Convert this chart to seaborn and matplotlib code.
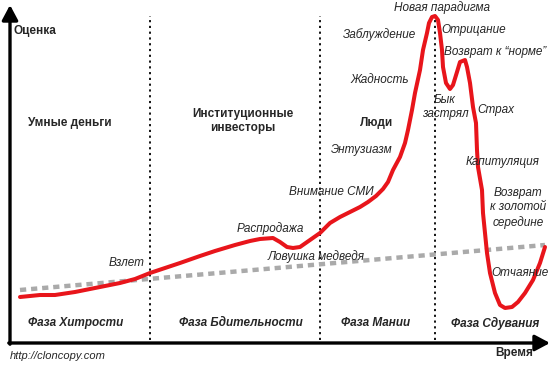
import matplotlib
matplotlib.use("Agg")
import matplotlib.pyplot as plt
import seaborn as sns
import pandas as pd

# Bubble phases chart: time on x, valuation on y (units)
time_pts = [10, 30, 45, 65, 90, 110, 125, 140, 155, 170,
            190, 205, 225, 240, 250, 263, 270, 277, 283, 290,
            300, 310, 320, 330, 340, 350, 358, 366, 373, 378,
            383, 390, 395, 398, 402, 405, 410, 413, 417, 419,
            422, 425, 428, 430, 432, 433, 436, 440, 443, 447,
            450, 455, 457, 460, 463, 466, 467, 468, 472, 473,
            475, 477, 480, 485, 490, 495, 502, 508, 515, 523,
            530, 535]
valuation = [46, 48, 48, 51, 56, 60, 64, 70, 75, 80,
             87, 92, 98, 102, 104, 105, 101, 96, 95, 96,
             103, 110, 120, 126, 131, 136, 141, 147, 154, 161,
             173, 186, 200, 213, 233, 250, 273, 293, 310, 320,
             326, 327, 323, 310, 293, 276, 260, 254, 258, 271,
             281, 283, 276, 260, 236, 220, 193, 176, 153, 130,
             110, 90, 70, 50, 38, 35, 36, 41, 50, 63,
             80, 96]

trend_time = [10, 535]
trend_value = [53, 98]

phase_bounds = [140, 310, 425]
phase_names = ["Фаза Хитрости", "Фаза Бдительности", "Фаза Мании", "Фаза Сдувания"]
phase_centers = [66, 231, 366, 485]

players = ["Умные деньги", "Институционные\nинвесторы", "Люди"]
player_pos = [(60, 220), (233, 222), (367, 220)]

moods = ["Взлет", "Распродажа", "Ловушка медведя", "Внимание СМИ", "Энтузиазм",
         "Жадность", "Заблуждение", "Новая парадигма", "Отрицание",
         "Возврат к \u201cнорме\u201d", "Бык\nзастрял", "Страх", "Капитуляция",
         "Возврат\nк золотой\nсередине", "Отчаяние"]
mood_pos = [(117, 80), (260, 114), (306, 86), (321, 151), (352, 193),
            (370, 263), (370, 308), (432, 335), (464, 313),
            (485, 291), (435, 236), (486, 233), (493, 181),
            (508, 135), (510, 70)]

sns.set_theme(style="white")
plt.rcParams["font.family"] = ["Liberation Sans", "DejaVu Sans"]

fig = plt.figure(figsize=(5.5, 3.67), dpi=100)
ax = fig.add_axes([0, 0, 1, 1])
ax.set_xlim(-10, 540)
ax.set_ylim(-24, 343)
ax.axis("off")

# phase dividers
for xb in phase_bounds:
    ax.plot([xb, xb], [3, 327], color="black", lw=1.3,
            dashes=(1.2, 2.0), dash_capstyle="butt")

# long-term trend
ax.plot(trend_time, trend_value, color="#aaaaaa", lw=3.2,
        dashes=(1.4, 1.1), dash_capstyle="butt")

# bubble curve
df = pd.DataFrame({"t": time_pts, "v": valuation})
sns.lineplot(data=df, x="t", y="v", sort=False, color="#e8151b", lw=2.9,
             ax=ax, solid_joinstyle="round", solid_capstyle="round")

# axes with arrows
ax.annotate("", xy=(0, 338), xytext=(0, -1.2),
            arrowprops=dict(arrowstyle="-|>,head_length=0.75,head_width=0.4",
                            color="black", lw=2.4, shrinkA=0, shrinkB=0))
ax.annotate("", xy=(540, 0), xytext=(-1.2, 0),
            arrowprops=dict(arrowstyle="-|>,head_length=0.75,head_width=0.4",
                            color="black", lw=2.4, shrinkA=0, shrinkB=0))

ax.text(3, 312, "Оценка", fontsize=8.5, fontweight="bold", ha="left", va="center")
ax.text(504, -10, "Время", fontsize=8.5, fontweight="bold", ha="center", va="center")
ax.text(0, -13, "http://cloncopy.com", fontsize=8, style="italic",
        ha="left", va="center")

for name, (x, y) in zip(players, player_pos):
    ax.text(x, y, name, fontsize=8.5, fontweight="bold", ha="center",
            va="center", linespacing=1.25)

for name, xc in zip(phase_names, phase_centers):
    ax.text(xc, 20, name, fontsize=8.5, fontweight="bold", style="italic",
            ha="center", va="center")

for name, (x, y) in zip(moods, mood_pos):
    ax.text(x, y, name, fontsize=8.5, style="italic", ha="center",
            va="center", linespacing=1.3)

fig.savefig("out.png", dpi=100)
